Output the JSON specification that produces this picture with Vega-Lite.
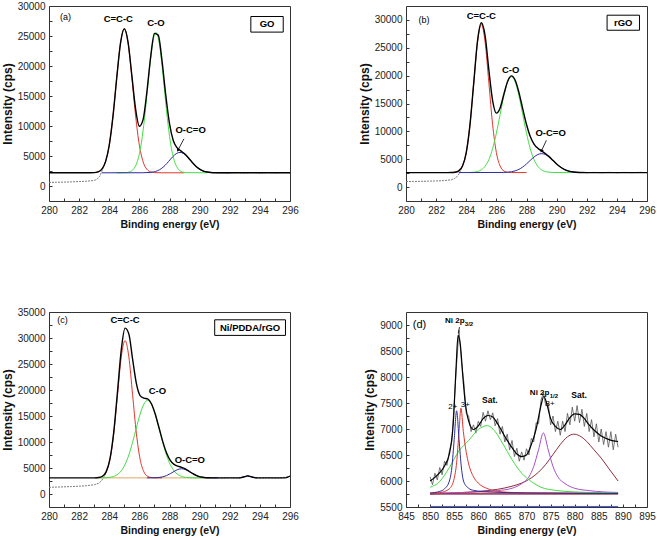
{
"$schema":"https://vega.github.io/schema/vega-lite/v6.json",
"padding":{"left":0,"top":0,"right":0,"bottom":0},
"bounds":"flush",
"columns":2,
"spacing":{"row":111,"column":116},
"config":{
 "font":"Liberation Sans",
 "view":{"stroke":"#333","strokeWidth":1},
 "axis":{"domain":false,"grid":false,"tickSize":-3,"tickColor":"#333","labelPadding":7,"labelFontSize":10,"labelColor":"#222","labelFlush":false,"labelOverlap":false,"titleFontWeight":"bold","titleColor":"#111"},
 "axisX":{"titleFontSize":10.5,"titlePadding":4},
 "axisY":{"titleFontSize":12,"titlePadding":3}
},
"datasets":{
"cv":[
{"p":"a","s":"rawL","x":280,"y":600},{"p":"a","s":"rawL","x":280.5,"y":620},{"p":"a","s":"rawL","x":281,"y":650},{"p":"a","s":"rawL","x":281.5,"y":690},{"p":"a","s":"rawL","x":282,"y":740},{"p":"a","s":"rawL","x":282.5,"y":800},{"p":"a","s":"rawL","x":283,"y":930},{"p":"a","s":"rawL","x":283.2,"y":1150},{"p":"a","s":"rawL","x":283.35,"y":1550},{"p":"a","s":"rawL","x":283.5,"y":2400},{"p":"a","s":"rawL","x":283.75,"y":4014},
{"p":"a","s":"rawR","x":291.5,"y":2250},{"p":"a","s":"rawR","x":292,"y":2180},{"p":"a","s":"rawR","x":292.5,"y":2230},{"p":"a","s":"rawR","x":293,"y":2170},{"p":"a","s":"rawR","x":293.5,"y":2240},{"p":"a","s":"rawR","x":294,"y":2160},{"p":"a","s":"rawR","x":294.5,"y":2250},{"p":"a","s":"rawR","x":295,"y":2180},{"p":"a","s":"rawR","x":295.5,"y":2230},{"p":"a","s":"rawR","x":296,"y":2200},
{"p":"a","s":"env","x":280,"y":2200},{"p":"a","s":"env","x":282.5,"y":2200},{"p":"a","s":"env","x":283,"y":2231},{"p":"a","s":"env","x":283.25,"y":2351},{"p":"a","s":"env","x":283.5,"y":2783},{"p":"a","s":"env","x":283.75,"y":4014},{"p":"a","s":"env","x":284,"y":6796},{"p":"a","s":"env","x":284.25,"y":11680},{"p":"a","s":"env","x":284.5,"y":18090},{"p":"a","s":"env","x":284.75,"y":23850},{"p":"a","s":"env","x":285,"y":26216},{"p":"a","s":"env","x":285.25,"y":23932},{"p":"a","s":"env","x":285.5,"y":18430},{"p":"a","s":"env","x":285.75,"y":12831},{"p":"a","s":"env","x":286,"y":9964},{"p":"a","s":"env","x":286.25,"y":11111},{"p":"a","s":"env","x":286.5,"y":15714},{"p":"a","s":"env","x":286.75,"y":21531},{"p":"a","s":"env","x":287,"y":25426},{"p":"a","s":"env","x":287.25,"y":25150},{"p":"a","s":"env","x":287.5,"y":20944},{"p":"a","s":"env","x":287.75,"y":15195},{"p":"a","s":"env","x":288,"y":10393},{"p":"a","s":"env","x":288.25,"y":7595},{"p":"a","s":"env","x":288.5,"y":6381},{"p":"a","s":"env","x":288.75,"y":5857},{"p":"a","s":"env","x":289,"y":5362},{"p":"a","s":"env","x":289.25,"y":4708},{"p":"a","s":"env","x":289.5,"y":3969},{"p":"a","s":"env","x":289.75,"y":3304},{"p":"a","s":"env","x":290,"y":2806},{"p":"a","s":"env","x":290.25,"y":2492},{"p":"a","s":"env","x":290.5,"y":2325},{"p":"a","s":"env","x":290.75,"y":2247},{"p":"a","s":"env","x":291,"y":2215},{"p":"a","s":"env","x":291.5,"y":2205},{"p":"a","s":"env","x":296,"y":2200},
{"p":"a","s":"r","x":283,"y":2231},{"p":"a","s":"r","x":283.25,"y":2351},{"p":"a","s":"r","x":283.5,"y":2783},{"p":"a","s":"r","x":283.75,"y":4014},{"p":"a","s":"r","x":284,"y":6796},{"p":"a","s":"r","x":284.25,"y":11680},{"p":"a","s":"r","x":284.5,"y":18090},{"p":"a","s":"r","x":284.75,"y":23850},{"p":"a","s":"r","x":285,"y":26200},{"p":"a","s":"r","x":285.25,"y":23850},{"p":"a","s":"r","x":285.5,"y":18090},{"p":"a","s":"r","x":285.75,"y":11680},{"p":"a","s":"r","x":286,"y":6796},{"p":"a","s":"r","x":286.25,"y":4014},{"p":"a","s":"r","x":286.5,"y":2783},{"p":"a","s":"r","x":286.75,"y":2351},{"p":"a","s":"r","x":287,"y":2231},{"p":"a","s":"r","x":287.5,"y":2203},{"p":"a","s":"r","x":289,"y":2200},
{"p":"a","s":"g","x":284.5,"y":2200},{"p":"a","s":"g","x":285.1,"y":2230},{"p":"a","s":"g","x":285.35,"y":2347},{"p":"a","s":"g","x":285.6,"y":2769},{"p":"a","s":"g","x":285.85,"y":3970},{"p":"a","s":"g","x":286.1,"y":6670},{"p":"a","s":"g","x":286.35,"y":11440},{"p":"a","s":"g","x":286.6,"y":17690},{"p":"a","s":"g","x":286.85,"y":23310},{"p":"a","s":"g","x":287.1,"y":25600},{"p":"a","s":"g","x":287.35,"y":23310},{"p":"a","s":"g","x":287.6,"y":17690},{"p":"a","s":"g","x":287.85,"y":11440},{"p":"a","s":"g","x":288.1,"y":6670},{"p":"a","s":"g","x":288.35,"y":3970},{"p":"a","s":"g","x":288.6,"y":2769},{"p":"a","s":"g","x":288.85,"y":2347},{"p":"a","s":"g","x":289.1,"y":2230},{"p":"a","s":"g","x":290.5,"y":2200},
{"p":"a","s":"b","x":283.5,"y":2200},{"p":"a","s":"b","x":286.2,"y":2206},{"p":"a","s":"b","x":286.7,"y":2258},{"p":"a","s":"b","x":286.95,"y":2350},{"p":"a","s":"b","x":287.2,"y":2540},{"p":"a","s":"b","x":287.45,"y":2890},{"p":"a","s":"b","x":287.7,"y":3424},{"p":"a","s":"b","x":287.95,"y":4114},{"p":"a","s":"b","x":288.2,"y":4835},{"p":"a","s":"b","x":288.45,"y":5389},{"p":"a","s":"b","x":288.7,"y":5600},{"p":"a","s":"b","x":288.95,"y":5389},{"p":"a","s":"b","x":289.2,"y":4835},{"p":"a","s":"b","x":289.45,"y":4114},{"p":"a","s":"b","x":289.7,"y":3424},{"p":"a","s":"b","x":289.95,"y":2890},{"p":"a","s":"b","x":290.2,"y":2540},{"p":"a","s":"b","x":290.45,"y":2350},{"p":"a","s":"b","x":290.7,"y":2258},{"p":"a","s":"b","x":291.2,"y":2206},{"p":"a","s":"b","x":292,"y":2200},

{"p":"b","s":"rawL","x":280,"y":1000},{"p":"b","s":"rawL","x":280.5,"y":1010},{"p":"b","s":"rawL","x":281,"y":1030},{"p":"b","s":"rawL","x":281.5,"y":1060},{"p":"b","s":"rawL","x":282,"y":1100},{"p":"b","s":"rawL","x":282.5,"y":1160},{"p":"b","s":"rawL","x":283,"y":1300},{"p":"b","s":"rawL","x":283.2,"y":1500},{"p":"b","s":"rawL","x":283.4,"y":1900},{"p":"b","s":"rawL","x":283.55,"y":2500},{"p":"b","s":"rawL","x":283.75,"y":3768},
{"p":"b","s":"rawR","x":291.75,"y":2650},{"p":"b","s":"rawR","x":292,"y":2580},{"p":"b","s":"rawR","x":292.5,"y":2640},{"p":"b","s":"rawR","x":293,"y":2560},{"p":"b","s":"rawR","x":293.5,"y":2650},{"p":"b","s":"rawR","x":294,"y":2570},{"p":"b","s":"rawR","x":294.5,"y":2640},{"p":"b","s":"rawR","x":295,"y":2580},{"p":"b","s":"rawR","x":295.5,"y":2650},{"p":"b","s":"rawR","x":296,"y":2600},
{"p":"b","s":"env","x":280,"y":2600},{"p":"b","s":"env","x":282.75,"y":2600},{"p":"b","s":"env","x":283,"y":2609},{"p":"b","s":"env","x":283.25,"y":2658},{"p":"b","s":"env","x":283.5,"y":2895},{"p":"b","s":"env","x":283.75,"y":3768},{"p":"b","s":"env","x":284,"y":6200},{"p":"b","s":"env","x":284.25,"y":11258},{"p":"b","s":"env","x":284.5,"y":18799},{"p":"b","s":"env","x":284.75,"y":26266},{"p":"b","s":"env","x":285,"y":29500},{"p":"b","s":"env","x":285.25,"y":27205},{"p":"b","s":"env","x":285.5,"y":21060},{"p":"b","s":"env","x":285.75,"y":15526},{"p":"b","s":"env","x":286,"y":13272},{"p":"b","s":"env","x":286.25,"y":14209},{"p":"b","s":"env","x":286.5,"y":16699},{"p":"b","s":"env","x":286.75,"y":18993},{"p":"b","s":"env","x":287,"y":19958},{"p":"b","s":"env","x":287.25,"y":19181},{"p":"b","s":"env","x":287.5,"y":16964},{"p":"b","s":"env","x":287.75,"y":14035},{"p":"b","s":"env","x":288,"y":11226},{"p":"b","s":"env","x":288.25,"y":9081},{"p":"b","s":"env","x":288.5,"y":7724},{"p":"b","s":"env","x":288.75,"y":6968},{"p":"b","s":"env","x":289,"y":6491},{"p":"b","s":"env","x":289.25,"y":6029},{"p":"b","s":"env","x":289.5,"y":5463},{"p":"b","s":"env","x":289.75,"y":4813},{"p":"b","s":"env","x":290,"y":4157},{"p":"b","s":"env","x":290.25,"y":3603},{"p":"b","s":"env","x":290.5,"y":3186},{"p":"b","s":"env","x":290.75,"y":2911},{"p":"b","s":"env","x":291,"y":2749},{"p":"b","s":"env","x":291.25,"y":2665},{"p":"b","s":"env","x":291.5,"y":2626},{"p":"b","s":"env","x":292,"y":2600},{"p":"b","s":"env","x":296,"y":2600},
{"p":"b","s":"r","x":283,"y":2609},{"p":"b","s":"r","x":283.25,"y":2658},{"p":"b","s":"r","x":283.5,"y":2895},{"p":"b","s":"r","x":283.75,"y":3768},{"p":"b","s":"r","x":284,"y":6200},{"p":"b","s":"r","x":284.25,"y":11237},{"p":"b","s":"r","x":284.5,"y":18733},{"p":"b","s":"r","x":284.75,"y":26075},{"p":"b","s":"r","x":285,"y":29200},{"p":"b","s":"r","x":285.25,"y":26075},{"p":"b","s":"r","x":285.5,"y":18733},{"p":"b","s":"r","x":285.75,"y":11237},{"p":"b","s":"r","x":286,"y":6200},{"p":"b","s":"r","x":286.25,"y":3768},{"p":"b","s":"r","x":286.5,"y":2895},{"p":"b","s":"r","x":286.75,"y":2658},{"p":"b","s":"r","x":287,"y":2609},{"p":"b","s":"r","x":288,"y":2600},
{"p":"b","s":"g","x":284.25,"y":2621},{"p":"b","s":"g","x":284.5,"y":2666},{"p":"b","s":"g","x":284.75,"y":2791},{"p":"b","s":"g","x":285,"y":3091},{"p":"b","s":"g","x":285.25,"y":3730},{"p":"b","s":"g","x":285.5,"y":4927},{"p":"b","s":"g","x":285.75,"y":6889},{"p":"b","s":"g","x":286,"y":9669},{"p":"b","s":"g","x":286.25,"y":13032},{"p":"b","s":"g","x":286.5,"y":16378},{"p":"b","s":"g","x":286.75,"y":18870},{"p":"b","s":"g","x":287,"y":19800},{"p":"b","s":"g","x":287.25,"y":18870},{"p":"b","s":"g","x":287.5,"y":16378},{"p":"b","s":"g","x":287.75,"y":13032},{"p":"b","s":"g","x":288,"y":9669},{"p":"b","s":"g","x":288.25,"y":6889},{"p":"b","s":"g","x":288.5,"y":4927},{"p":"b","s":"g","x":288.75,"y":3730},{"p":"b","s":"g","x":289,"y":3091},{"p":"b","s":"g","x":289.25,"y":2791},{"p":"b","s":"g","x":289.5,"y":2666},{"p":"b","s":"g","x":289.75,"y":2621},{"p":"b","s":"g","x":291,"y":2600},
{"p":"b","s":"b","x":283.5,"y":2600},{"p":"b","s":"b","x":286.5,"y":2626},{"p":"b","s":"b","x":286.75,"y":2665},{"p":"b","s":"b","x":287,"y":2749},{"p":"b","s":"b","x":287.25,"y":2911},{"p":"b","s":"b","x":287.5,"y":3186},{"p":"b","s":"b","x":287.75,"y":3603},{"p":"b","s":"b","x":288,"y":4157},{"p":"b","s":"b","x":288.25,"y":4792},{"p":"b","s":"b","x":288.5,"y":5397},{"p":"b","s":"b","x":288.75,"y":5838},{"p":"b","s":"b","x":289,"y":6000},{"p":"b","s":"b","x":289.25,"y":5838},{"p":"b","s":"b","x":289.5,"y":5397},{"p":"b","s":"b","x":289.75,"y":4792},{"p":"b","s":"b","x":290,"y":4157},{"p":"b","s":"b","x":290.25,"y":3603},{"p":"b","s":"b","x":290.5,"y":3186},{"p":"b","s":"b","x":290.75,"y":2911},{"p":"b","s":"b","x":291,"y":2749},{"p":"b","s":"b","x":291.25,"y":2665},{"p":"b","s":"b","x":291.5,"y":2626},{"p":"b","s":"b","x":292,"y":2600},

{"p":"c","s":"rawL","x":280,"y":1300},{"p":"c","s":"rawL","x":280.5,"y":1330},{"p":"c","s":"rawL","x":281,"y":1380},{"p":"c","s":"rawL","x":281.5,"y":1430},{"p":"c","s":"rawL","x":282,"y":1500},{"p":"c","s":"rawL","x":282.5,"y":1600},{"p":"c","s":"rawL","x":283,"y":1780},{"p":"c","s":"rawL","x":283.3,"y":2050},{"p":"c","s":"rawL","x":283.5,"y":2600},{"p":"c","s":"rawL","x":283.65,"y":3250},{"p":"c","s":"rawL","x":283.8,"y":4299},
{"p":"c","s":"rawR","x":291,"y":3150},{"p":"c","s":"rawR","x":291.5,"y":3050},{"p":"c","s":"rawR","x":292,"y":3140},{"p":"c","s":"rawR","x":292.5,"y":3060},{"p":"c","s":"rawR","x":293,"y":3350},{"p":"c","s":"rawR","x":293.2,"y":3480},{"p":"c","s":"rawR","x":293.5,"y":3250},{"p":"c","s":"rawR","x":294,"y":3060},{"p":"c","s":"rawR","x":294.5,"y":3140},{"p":"c","s":"rawR","x":295,"y":3050},{"p":"c","s":"rawR","x":295.5,"y":3120},{"p":"c","s":"rawR","x":296,"y":3400},
{"p":"c","s":"env","x":280,"y":3100},{"p":"c","s":"env","x":282.8,"y":3100},{"p":"c","s":"env","x":283.05,"y":3109},{"p":"c","s":"env","x":283.3,"y":3162},{"p":"c","s":"env","x":283.55,"y":3406},{"p":"c","s":"env","x":283.8,"y":4299},{"p":"c","s":"env","x":284.05,"y":6785},{"p":"c","s":"env","x":284.3,"y":11958},{"p":"c","s":"env","x":284.55,"y":19766},{"p":"c","s":"env","x":284.8,"y":27760},{"p":"c","s":"env","x":285.05,"y":31900},{"p":"c","s":"env","x":285.3,"y":30794},{"p":"c","s":"env","x":285.55,"y":25934},{"p":"c","s":"env","x":285.8,"y":21278},{"p":"c","s":"env","x":286.05,"y":18933},{"p":"c","s":"env","x":286.3,"y":18450},{"p":"c","s":"env","x":286.55,"y":18295},{"p":"c","s":"env","x":286.8,"y":17355},{"p":"c","s":"env","x":287.05,"y":15394},{"p":"c","s":"env","x":287.3,"y":12783},{"p":"c","s":"env","x":287.55,"y":10122},{"p":"c","s":"env","x":287.8,"y":7932},{"p":"c","s":"env","x":288.05,"y":6468},{"p":"c","s":"env","x":288.3,"y":5699},{"p":"c","s":"env","x":288.55,"y":5359},{"p":"c","s":"env","x":288.8,"y":5136},{"p":"c","s":"env","x":289.05,"y":4818},{"p":"c","s":"env","x":289.3,"y":4377},{"p":"c","s":"env","x":289.55,"y":3914},{"p":"c","s":"env","x":289.8,"y":3540},{"p":"c","s":"env","x":290.05,"y":3300},{"p":"c","s":"env","x":290.3,"y":3177},{"p":"c","s":"env","x":290.55,"y":3125},{"p":"c","s":"env","x":290.8,"y":3107},{"p":"c","s":"env","x":291.2,"y":3100},{"p":"c","s":"env","x":292.7,"y":3100},{"p":"c","s":"env","x":293,"y":3330},{"p":"c","s":"env","x":293.2,"y":3480},{"p":"c","s":"env","x":293.4,"y":3330},{"p":"c","s":"env","x":293.7,"y":3100},{"p":"c","s":"env","x":295.7,"y":3100},{"p":"c","s":"env","x":296,"y":3450},
{"p":"c","s":"base","x":283.3,"y":3100},{"p":"c","s":"base","x":291,"y":3100},
{"p":"c","s":"r","x":283.05,"y":3108},{"p":"c","s":"r","x":283.3,"y":3158},{"p":"c","s":"r","x":283.55,"y":3393},{"p":"c","s":"r","x":283.8,"y":4259},{"p":"c","s":"r","x":284.05,"y":6672},{"p":"c","s":"r","x":284.3,"y":11672},{"p":"c","s":"r","x":284.55,"y":19112},{"p":"c","s":"r","x":284.8,"y":26398},{"p":"c","s":"r","x":285.05,"y":29500},{"p":"c","s":"r","x":285.3,"y":26398},{"p":"c","s":"r","x":285.55,"y":19112},{"p":"c","s":"r","x":285.8,"y":11672},{"p":"c","s":"r","x":286.05,"y":6672},{"p":"c","s":"r","x":286.3,"y":4259},{"p":"c","s":"r","x":286.55,"y":3393},{"p":"c","s":"r","x":286.8,"y":3158},{"p":"c","s":"r","x":287.05,"y":3108},{"p":"c","s":"r","x":287.5,"y":3100},
{"p":"c","s":"g","x":283.3,"y":3104},{"p":"c","s":"g","x":283.55,"y":3113},{"p":"c","s":"g","x":283.8,"y":3140},{"p":"c","s":"g","x":284.05,"y":3213},{"p":"c","s":"g","x":284.3,"y":3386},{"p":"c","s":"g","x":284.55,"y":3754},{"p":"c","s":"g","x":284.8,"y":4462},{"p":"c","s":"g","x":285.05,"y":5667},{"p":"c","s":"g","x":285.3,"y":7496},{"p":"c","s":"g","x":285.55,"y":9922},{"p":"c","s":"g","x":285.8,"y":12706},{"p":"c","s":"g","x":286.05,"y":15361},{"p":"c","s":"g","x":286.3,"y":17290},{"p":"c","s":"g","x":286.55,"y":18000},{"p":"c","s":"g","x":286.8,"y":17290},{"p":"c","s":"g","x":287.05,"y":15361},{"p":"c","s":"g","x":287.3,"y":12706},{"p":"c","s":"g","x":287.55,"y":9922},{"p":"c","s":"g","x":287.8,"y":7496},{"p":"c","s":"g","x":288.05,"y":5667},{"p":"c","s":"g","x":288.3,"y":4462},{"p":"c","s":"g","x":288.55,"y":3754},{"p":"c","s":"g","x":288.8,"y":3386},{"p":"c","s":"g","x":289.05,"y":3213},{"p":"c","s":"g","x":289.3,"y":3140},{"p":"c","s":"g","x":289.55,"y":3113},{"p":"c","s":"g","x":289.8,"y":3104},{"p":"c","s":"g","x":290.3,"y":3100},
{"p":"c","s":"b","x":286.5,"y":3100},{"p":"c","s":"b","x":287.05,"y":3125},{"p":"c","s":"b","x":287.3,"y":3177},{"p":"c","s":"b","x":287.55,"y":3300},{"p":"c","s":"b","x":287.8,"y":3536},{"p":"c","s":"b","x":288.05,"y":3901},{"p":"c","s":"b","x":288.3,"y":4337},{"p":"c","s":"b","x":288.55,"y":4705},{"p":"c","s":"b","x":288.8,"y":4850},{"p":"c","s":"b","x":289.05,"y":4705},{"p":"c","s":"b","x":289.3,"y":4337},{"p":"c","s":"b","x":289.55,"y":3901},{"p":"c","s":"b","x":289.8,"y":3536},{"p":"c","s":"b","x":290.05,"y":3300},{"p":"c","s":"b","x":290.3,"y":3177},{"p":"c","s":"b","x":290.55,"y":3125},{"p":"c","s":"b","x":290.8,"y":3107},{"p":"c","s":"b","x":291.2,"y":3100},
{"p":"c","s":"b2","x":292.6,"y":3100},{"p":"c","s":"b2","x":293,"y":3330},{"p":"c","s":"b2","x":293.2,"y":3480},{"p":"c","s":"b2","x":293.4,"y":3330},{"p":"c","s":"b2","x":293.8,"y":3100},

{"p":"d","s":"raw","x":850,"y":6080},{"p":"d","s":"raw","x":850.5,"y":5930},{"p":"d","s":"raw","x":851,"y":6150},{"p":"d","s":"raw","x":851.5,"y":6020},{"p":"d","s":"raw","x":852,"y":6260},{"p":"d","s":"raw","x":852.5,"y":6120},{"p":"d","s":"raw","x":853,"y":6380},{"p":"d","s":"raw","x":853.5,"y":6300},{"p":"d","s":"raw","x":854,"y":6580},{"p":"d","s":"raw","x":854.5,"y":6760},{"p":"d","s":"raw","x":855,"y":7500},{"p":"d","s":"raw","x":855.5,"y":8250},{"p":"d","s":"raw","x":856,"y":8900},{"p":"d","s":"raw","x":856.5,"y":8300},{"p":"d","s":"raw","x":857,"y":7900},{"p":"d","s":"raw","x":857.5,"y":7300},{"p":"d","s":"raw","x":858,"y":7250},{"p":"d","s":"raw","x":858.5,"y":6950},{"p":"d","s":"raw","x":859,"y":7080},{"p":"d","s":"raw","x":859.5,"y":6920},{"p":"d","s":"raw","x":860,"y":7150},{"p":"d","s":"raw","x":860.5,"y":7050},{"p":"d","s":"raw","x":861,"y":7320},{"p":"d","s":"raw","x":861.5,"y":7150},{"p":"d","s":"raw","x":862,"y":7350},{"p":"d","s":"raw","x":862.5,"y":7180},{"p":"d","s":"raw","x":863,"y":7310},{"p":"d","s":"raw","x":863.5,"y":7060},{"p":"d","s":"raw","x":864,"y":7200},{"p":"d","s":"raw","x":864.5,"y":6900},{"p":"d","s":"raw","x":865,"y":7050},{"p":"d","s":"raw","x":865.5,"y":6750},{"p":"d","s":"raw","x":866,"y":6900},{"p":"d","s":"raw","x":866.5,"y":6600},{"p":"d","s":"raw","x":867,"y":6780},{"p":"d","s":"raw","x":867.5,"y":6470},{"p":"d","s":"raw","x":868,"y":6630},{"p":"d","s":"raw","x":868.5,"y":6380},{"p":"d","s":"raw","x":869,"y":6560},{"p":"d","s":"raw","x":869.5,"y":6400},{"p":"d","s":"raw","x":870,"y":6620},{"p":"d","s":"raw","x":870.5,"y":6500},{"p":"d","s":"raw","x":871,"y":6820},{"p":"d","s":"raw","x":871.5,"y":6750},{"p":"d","s":"raw","x":872,"y":7120},{"p":"d","s":"raw","x":872.5,"y":7100},{"p":"d","s":"raw","x":873,"y":7550},{"p":"d","s":"raw","x":873.5,"y":7700},{"p":"d","s":"raw","x":874,"y":7450},{"p":"d","s":"raw","x":874.5,"y":7500},{"p":"d","s":"raw","x":875,"y":7080},{"p":"d","s":"raw","x":875.5,"y":7250},{"p":"d","s":"raw","x":876,"y":6950},{"p":"d","s":"raw","x":876.5,"y":7150},{"p":"d","s":"raw","x":877,"y":6880},{"p":"d","s":"raw","x":877.5,"y":7150},{"p":"d","s":"raw","x":878,"y":6950},{"p":"d","s":"raw","x":878.5,"y":7300},{"p":"d","s":"raw","x":879,"y":7080},{"p":"d","s":"raw","x":879.5,"y":7420},{"p":"d","s":"raw","x":880,"y":7150},{"p":"d","s":"raw","x":880.5,"y":7450},{"p":"d","s":"raw","x":881,"y":7120},{"p":"d","s":"raw","x":881.5,"y":7380},{"p":"d","s":"raw","x":882,"y":7050},{"p":"d","s":"raw","x":882.5,"y":7300},{"p":"d","s":"raw","x":883,"y":6950},{"p":"d","s":"raw","x":883.5,"y":7180},{"p":"d","s":"raw","x":884,"y":6850},{"p":"d","s":"raw","x":884.5,"y":7100},{"p":"d","s":"raw","x":885,"y":6750},{"p":"d","s":"raw","x":885.5,"y":7000},{"p":"d","s":"raw","x":886,"y":6700},{"p":"d","s":"raw","x":886.5,"y":6950},{"p":"d","s":"raw","x":887,"y":6650},{"p":"d","s":"raw","x":887.5,"y":6950},{"p":"d","s":"raw","x":888,"y":6600},{"p":"d","s":"raw","x":888.5,"y":6900},{"p":"d","s":"raw","x":889,"y":6650},
{"p":"d","s":"env","x":850,"y":6000},{"p":"d","s":"env","x":851,"y":6070},{"p":"d","s":"env","x":852,"y":6160},{"p":"d","s":"env","x":853,"y":6290},{"p":"d","s":"env","x":854,"y":6520},{"p":"d","s":"env","x":854.8,"y":7100},{"p":"d","s":"env","x":855.4,"y":8200},{"p":"d","s":"env","x":855.8,"y":8800},{"p":"d","s":"env","x":856.3,"y":8600},{"p":"d","s":"env","x":856.8,"y":8000},{"p":"d","s":"env","x":857.3,"y":7500},{"p":"d","s":"env","x":858,"y":7150},{"p":"d","s":"env","x":859,"y":6990},{"p":"d","s":"env","x":860,"y":7060},{"p":"d","s":"env","x":861,"y":7200},{"p":"d","s":"env","x":862,"y":7260},{"p":"d","s":"env","x":863,"y":7230},{"p":"d","s":"env","x":864,"y":7100},{"p":"d","s":"env","x":865,"y":6940},{"p":"d","s":"env","x":866,"y":6780},{"p":"d","s":"env","x":867,"y":6640},{"p":"d","s":"env","x":868,"y":6520},{"p":"d","s":"env","x":869,"y":6470},{"p":"d","s":"env","x":870,"y":6500},{"p":"d","s":"env","x":871,"y":6700},{"p":"d","s":"env","x":872,"y":7000},{"p":"d","s":"env","x":873,"y":7450},{"p":"d","s":"env","x":873.6,"y":7630},{"p":"d","s":"env","x":874.3,"y":7450},{"p":"d","s":"env","x":875,"y":7200},{"p":"d","s":"env","x":876,"y":7050},{"p":"d","s":"env","x":877,"y":6990},{"p":"d","s":"env","x":878,"y":7080},{"p":"d","s":"env","x":879,"y":7220},{"p":"d","s":"env","x":880,"y":7290},{"p":"d","s":"env","x":881,"y":7280},{"p":"d","s":"env","x":882,"y":7200},{"p":"d","s":"env","x":883,"y":7080},{"p":"d","s":"env","x":884,"y":6980},{"p":"d","s":"env","x":885,"y":6900},{"p":"d","s":"env","x":886,"y":6840},{"p":"d","s":"env","x":887,"y":6800},{"p":"d","s":"env","x":888,"y":6770},{"p":"d","s":"env","x":889,"y":6760},
{"p":"d","s":"bl1","x":850,"y":5748},{"p":"d","s":"bl1","x":889,"y":5748},
{"p":"d","s":"bl2","x":850,"y":5760},{"p":"d","s":"bl2","x":889,"y":5770},
{"p":"d","s":"res","x":850,"y":5510},{"p":"d","s":"res","x":889,"y":5510},
{"p":"d","s":"br","x":850,"y":5750},{"p":"d","s":"br","x":855,"y":5770},{"p":"d","s":"br","x":860,"y":5800},{"p":"d","s":"br","x":864,"y":5840},{"p":"d","s":"br","x":867,"y":5900},{"p":"d","s":"br","x":869,"y":5960},{"p":"d","s":"br","x":871,"y":6060},{"p":"d","s":"br","x":872.5,"y":6170},{"p":"d","s":"br","x":874,"y":6320},{"p":"d","s":"br","x":875.5,"y":6510},{"p":"d","s":"br","x":877,"y":6700},{"p":"d","s":"br","x":878.5,"y":6850},{"p":"d","s":"br","x":879.8,"y":6900},{"p":"d","s":"br","x":881,"y":6870},{"p":"d","s":"br","x":882.5,"y":6760},{"p":"d","s":"br","x":884,"y":6600},{"p":"d","s":"br","x":885.5,"y":6440},{"p":"d","s":"br","x":887,"y":6250},{"p":"d","s":"br","x":889,"y":6000},
{"p":"d","s":"pu","x":850,"y":5765},{"p":"d","s":"pu","x":855,"y":5775},{"p":"d","s":"pu","x":860,"y":5790},{"p":"d","s":"pu","x":864,"y":5815},{"p":"d","s":"pu","x":867,"y":5860},{"p":"d","s":"pu","x":869,"y":5950},{"p":"d","s":"pu","x":870.5,"y":6080},{"p":"d","s":"pu","x":871.5,"y":6280},{"p":"d","s":"pu","x":872.5,"y":6600},{"p":"d","s":"pu","x":873.5,"y":6925},{"p":"d","s":"pu","x":874.5,"y":6600},{"p":"d","s":"pu","x":875.5,"y":6280},{"p":"d","s":"pu","x":876.5,"y":6080},{"p":"d","s":"pu","x":878,"y":5950},{"p":"d","s":"pu","x":880,"y":5860},{"p":"d","s":"pu","x":883,"y":5815},{"p":"d","s":"pu","x":886,"y":5790},{"p":"d","s":"pu","x":889,"y":5780},
{"p":"d","s":"g","x":850,"y":5880},{"p":"d","s":"g","x":852,"y":5990},{"p":"d","s":"g","x":854,"y":6260},{"p":"d","s":"g","x":856,"y":6580},{"p":"d","s":"g","x":858,"y":6780},{"p":"d","s":"g","x":860,"y":6990},{"p":"d","s":"g","x":861.85,"y":7065},{"p":"d","s":"g","x":863.5,"y":6950},{"p":"d","s":"g","x":865,"y":6730},{"p":"d","s":"g","x":867,"y":6410},{"p":"d","s":"g","x":869,"y":6150},{"p":"d","s":"g","x":871,"y":5990},{"p":"d","s":"g","x":873,"y":5880},{"p":"d","s":"g","x":876,"y":5820},{"p":"d","s":"g","x":880,"y":5790},{"p":"d","s":"g","x":885,"y":5775},{"p":"d","s":"g","x":889,"y":5770},
{"p":"d","s":"r","x":850,"y":5760},{"p":"d","s":"r","x":852,"y":5775},{"p":"d","s":"r","x":854,"y":5850},{"p":"d","s":"r","x":855,"y":6050},{"p":"d","s":"r","x":855.5,"y":6350},{"p":"d","s":"r","x":856,"y":6950},{"p":"d","s":"r","x":856.4,"y":7400},{"p":"d","s":"r","x":856.9,"y":6950},{"p":"d","s":"r","x":857.5,"y":6550},{"p":"d","s":"r","x":858,"y":6330},{"p":"d","s":"r","x":859,"y":6080},{"p":"d","s":"r","x":860,"y":5960},{"p":"d","s":"r","x":862,"y":5850},{"p":"d","s":"r","x":865,"y":5790},{"p":"d","s":"r","x":870,"y":5770},{"p":"d","s":"r","x":889,"y":5760},
{"p":"d","s":"b","x":850,"y":5770},{"p":"d","s":"b","x":852,"y":5800},{"p":"d","s":"b","x":853,"y":5850},{"p":"d","s":"b","x":854,"y":6000},{"p":"d","s":"b","x":854.5,"y":6250},{"p":"d","s":"b","x":855,"y":6800},{"p":"d","s":"b","x":855.5,"y":7350},{"p":"d","s":"b","x":856,"y":6800},{"p":"d","s":"b","x":856.5,"y":6250},{"p":"d","s":"b","x":857,"y":5980},{"p":"d","s":"b","x":858,"y":5860},{"p":"d","s":"b","x":859,"y":5820},{"p":"d","s":"b","x":862,"y":5790},{"p":"d","s":"b","x":870,"y":5770},{"p":"d","s":"b","x":889,"y":5760}
],
"lb":[
{"p":"a","k":"n","t":"(a)","x":281.1,"y":28200},
{"p":"a","k":"b","t":"C=C-C","x":284.6,"y":27800},
{"p":"a","k":"b","t":"C-O","x":287.1,"y":27250},
{"p":"a","k":"b","t":"O-C=O","x":289.4,"y":9300},
{"p":"a","k":"b","t":"GO","x":294.48,"y":26950},
{"p":"b","k":"n","t":"(b)","x":281.2,"y":29950},
{"p":"b","k":"b","t":"C=C-C","x":285.0,"y":30700},
{"p":"b","k":"b","t":"C-O","x":286.95,"y":21100},
{"p":"b","k":"b","t":"O-C=O","x":289.6,"y":9750},
{"p":"b","k":"b","t":"rGO","x":294.42,"y":29500},
{"p":"c","k":"n","t":"(c)","x":280.9,"y":33400},
{"p":"c","k":"b","t":"C=C-C","x":285.05,"y":33400},
{"p":"c","k":"b","t":"C-O","x":287.2,"y":19750},
{"p":"c","k":"b","t":"O-C=O","x":289.35,"y":6450},
{"p":"c","k":"b","t":"Ni/PDDA/rGO","x":293.35,"y":32000},
{"p":"d","k":"pd","t":"(d)","x":847.8,"y":9002},
{"p":"d","k":"bdl","t":"Ni 2p","x":853.1,"y":9079},
{"p":"d","k":"sdl","t":"3/2","x":857.2,"y":9022},
{"p":"d","k":"bdl","t":"Ni 2p","x":870.7,"y":7689},
{"p":"d","k":"sdl","t":"1/2","x":874.8,"y":7632},
{"p":"d","k":"nd","t":"2+","x":854.7,"y":7417},
{"p":"d","k":"nd","t":"3+","x":857.3,"y":7455},
{"p":"d","k":"nd","t":"3+","x":874.9,"y":7485},
{"p":"d","k":"bd","t":"Sat.","x":862.4,"y":7560},
{"p":"d","k":"bd","t":"Sat.","x":880.9,"y":7657}
],
"bx":[
{"p":"a","x":293.4,"x2":295.55,"y":25650,"y2":28250},
{"p":"b","x":293.35,"x2":295.5,"y":28150,"y2":30850},
{"p":"c","x":291.0,"x2":295.7,"y":30500,"y2":33500}
],
"ar":[
{"p":"a","x":288.96,"y":7880,"x2":288.56,"y2":5950},
{"p":"b","x":289.32,"y":8390,"x2":288.99,"y2":6470},
{"p":"d","x":856.1,"y":8960,"x2":855.85,"y2":8840}
],
"hd":[
{"p":"a","x":288.56,"y":5950},
{"p":"b","x":288.99,"y":6470}
]
},
"concat":[
{"width":241,"height":195,
 "encoding":{
  "x":{"field":"x","type":"quantitative","scale":{"domain":[280,296],"nice":false,"zero":false},"axis":{"title":"Binding energy (eV)","values":[280,281,282,283,284,285,286,287,288,289,290,291,292,293,294,295,296],"labelExpr":"datum.value % 2 == 0 ? datum.label : ''"}},
  "y":{"field":"y","type":"quantitative","scale":{"domain":[-2500,30000],"nice":false,"zero":false},"axis":{"title":"Intensity (cps)","format":"d","values":[0,2500,5000,7500,10000,12500,15000,17500,20000,22500,25000,27500,30000],"labelExpr":"datum.value % 5000 == 0 ? datum.label : ''"}}
 },
 "layer":[
  {"data":{"name":"cv"},"transform":[{"filter":"datum.p=='a' && (datum.s=='rawL' || datum.s=='rawR')"}],"mark":{"type":"line","color":"#7a7a7a","strokeDash":[2,1],"strokeWidth":1,"clip":true},"encoding":{"detail":{"field":"s"}}},
  {"data":{"name":"cv"},"transform":[{"filter":"datum.p=='a' && indexof(['r','g','b','b2','base','pu','br','bl1','bl2','res'], datum.s) >= 0"}],"mark":{"type":"line","interpolate":"monotone","strokeWidth":1,"clip":true},"encoding":{"color":{"field":"s","type":"nominal","scale":{"domain":["r","g","b","b2","base","pu","br","bl1","bl2","res"],"range":["#e0362c","#44dd44","#2b2b9c","#2b2b9c","#dba760","#a54fc8","#8e2c3c","#7c1f3a","#b03040","#4a5ad8"]},"legend":null}}},
  {"data":{"name":"cv"},"transform":[{"filter":"datum.p=='a' && datum.s=='env'"}],"mark":{"type":"line","interpolate":"monotone","color":"#000","strokeWidth":1.4,"clip":true}},
  {"data":{"name":"bx"},"transform":[{"filter":"datum.p=='a'"}],"mark":{"type":"rect","fill":"#fff","stroke":"#000","strokeWidth":1},"encoding":{"x2":{"field":"x2"},"y2":{"field":"y2"}}},
  {"data":{"name":"lb"},"transform":[{"filter":"datum.p=='a' && datum.k=='b'"}],"mark":{"type":"text","fontWeight":"bold","fontSize":9.5,"color":"#000"},"encoding":{"text":{"field":"t"}}},
  {"data":{"name":"lb"},"transform":[{"filter":"datum.p=='a' && datum.k=='n'"}],"mark":{"type":"text","fontSize":9,"color":"#000"},"encoding":{"text":{"field":"t"}}},
  {"data":{"name":"ar"},"transform":[{"filter":"datum.p=='a'"}],"mark":{"type":"rule","color":"#000","strokeWidth":0.8},"encoding":{"x2":{"field":"x2"},"y2":{"field":"y2"}}},
  {"data":{"name":"hd"},"transform":[{"filter":"datum.p=='a'"}],"mark":{"type":"point","shape":"triangle-up","filled":true,"color":"#000","size":14,"angle":206,"opacity":1}}
 ]},
{"width":241,"height":195,
 "encoding":{
  "x":{"field":"x","type":"quantitative","scale":{"domain":[280,296],"nice":false,"zero":false},"axis":{"title":"Binding energy (eV)","values":[280,281,282,283,284,285,286,287,288,289,290,291,292,293,294,295,296],"labelExpr":"datum.value % 2 == 0 ? datum.label : ''"}},
  "y":{"field":"y","type":"quantitative","scale":{"domain":[-2500,32500],"nice":false,"zero":false},"axis":{"title":"Intensity (cps)","format":"d","values":[0,2500,5000,7500,10000,12500,15000,17500,20000,22500,25000,27500,30000],"labelExpr":"datum.value % 5000 == 0 ? datum.label : ''"}}
 },
 "layer":[
  {"data":{"name":"cv"},"transform":[{"filter":"datum.p=='b' && (datum.s=='rawL' || datum.s=='rawR')"}],"mark":{"type":"line","color":"#7a7a7a","strokeDash":[2,1],"strokeWidth":1,"clip":true},"encoding":{"detail":{"field":"s"}}},
  {"data":{"name":"cv"},"transform":[{"filter":"datum.p=='b' && indexof(['r','g','b','b2','base','pu','br','bl1','bl2','res'], datum.s) >= 0"}],"mark":{"type":"line","interpolate":"monotone","strokeWidth":1,"clip":true},"encoding":{"color":{"field":"s","type":"nominal","scale":{"domain":["r","g","b","b2","base","pu","br","bl1","bl2","res"],"range":["#e0362c","#44dd44","#2b2b9c","#2b2b9c","#dba760","#a54fc8","#8e2c3c","#7c1f3a","#b03040","#4a5ad8"]},"legend":null}}},
  {"data":{"name":"cv"},"transform":[{"filter":"datum.p=='b' && datum.s=='env'"}],"mark":{"type":"line","interpolate":"monotone","color":"#000","strokeWidth":1.4,"clip":true}},
  {"data":{"name":"bx"},"transform":[{"filter":"datum.p=='b'"}],"mark":{"type":"rect","fill":"#fff","stroke":"#000","strokeWidth":1},"encoding":{"x2":{"field":"x2"},"y2":{"field":"y2"}}},
  {"data":{"name":"lb"},"transform":[{"filter":"datum.p=='b' && datum.k=='b'"}],"mark":{"type":"text","fontWeight":"bold","fontSize":9.5,"color":"#000"},"encoding":{"text":{"field":"t"}}},
  {"data":{"name":"lb"},"transform":[{"filter":"datum.p=='b' && datum.k=='n'"}],"mark":{"type":"text","fontSize":9,"color":"#000"},"encoding":{"text":{"field":"t"}}},
  {"data":{"name":"ar"},"transform":[{"filter":"datum.p=='b'"}],"mark":{"type":"rule","color":"#000","strokeWidth":0.8},"encoding":{"x2":{"field":"x2"},"y2":{"field":"y2"}}},
  {"data":{"name":"hd"},"transform":[{"filter":"datum.p=='b'"}],"mark":{"type":"point","shape":"triangle-up","filled":true,"color":"#000","size":14,"angle":206,"opacity":1}}
 ]},
{"width":241,"height":195,
 "encoding":{
  "x":{"field":"x","type":"quantitative","scale":{"domain":[280,296],"nice":false,"zero":false},"axis":{"title":"Binding energy (eV)","values":[280,281,282,283,284,285,286,287,288,289,290,291,292,293,294,295,296],"labelExpr":"datum.value % 2 == 0 ? datum.label : ''"}},
  "y":{"field":"y","type":"quantitative","scale":{"domain":[-2500,35000],"nice":false,"zero":false},"axis":{"title":"Intensity (cps)","format":"d","values":[0,2500,5000,7500,10000,12500,15000,17500,20000,22500,25000,27500,30000,32500,35000],"labelExpr":"datum.value % 5000 == 0 ? datum.label : ''"}}
 },
 "layer":[
  {"data":{"name":"cv"},"transform":[{"filter":"datum.p=='c' && (datum.s=='rawL' || datum.s=='rawR')"}],"mark":{"type":"line","color":"#7a7a7a","strokeDash":[2,1],"strokeWidth":1,"clip":true},"encoding":{"detail":{"field":"s"}}},
  {"data":{"name":"cv"},"transform":[{"filter":"datum.p=='c' && indexof(['r','g','b','b2','base','pu','br','bl1','bl2','res'], datum.s) >= 0"}],"mark":{"type":"line","interpolate":"monotone","strokeWidth":1,"clip":true},"encoding":{"color":{"field":"s","type":"nominal","scale":{"domain":["r","g","b","b2","base","pu","br","bl1","bl2","res"],"range":["#e0362c","#44dd44","#2b2b9c","#2b2b9c","#dba760","#a54fc8","#8e2c3c","#7c1f3a","#b03040","#4a5ad8"]},"legend":null}}},
  {"data":{"name":"cv"},"transform":[{"filter":"datum.p=='c' && datum.s=='env'"}],"mark":{"type":"line","interpolate":"monotone","color":"#000","strokeWidth":1.4,"clip":true}},
  {"data":{"name":"bx"},"transform":[{"filter":"datum.p=='c'"}],"mark":{"type":"rect","fill":"#fff","stroke":"#000","strokeWidth":1},"encoding":{"x2":{"field":"x2"},"y2":{"field":"y2"}}},
  {"data":{"name":"lb"},"transform":[{"filter":"datum.p=='c' && datum.k=='b'"}],"mark":{"type":"text","fontWeight":"bold","fontSize":9.5,"color":"#000"},"encoding":{"text":{"field":"t"}}},
  {"data":{"name":"lb"},"transform":[{"filter":"datum.p=='c' && datum.k=='n'"}],"mark":{"type":"text","fontSize":9,"color":"#000"},"encoding":{"text":{"field":"t"}}}
 ]},
{"width":241,"height":195,
 "encoding":{
  "x":{"field":"x","type":"quantitative","scale":{"domain":[845,895],"nice":false,"zero":false},"axis":{"title":"Binding energy (eV)","values":[845,847.5,850,852.5,855,857.5,860,862.5,865,867.5,870,872.5,875,877.5,880,882.5,885,887.5,890,892.5,895],"labelExpr":"datum.value % 5 == 0 ? datum.label : ''"}},
  "y":{"field":"y","type":"quantitative","scale":{"domain":[5500,9250],"nice":false,"zero":false},"axis":{"title":"Intensity (cps)","format":"d","values":[5500,5750,6000,6250,6500,6750,7000,7250,7500,7750,8000,8250,8500,8750,9000],"labelExpr":"datum.value % 500 == 0 ? datum.label : ''"}}
 },
 "layer":[
  {"data":{"name":"cv"},"transform":[{"filter":"datum.p=='d' && datum.s=='raw'"}],"mark":{"type":"line","color":"#555","strokeWidth":0.8,"clip":true}},
  {"data":{"name":"cv"},"transform":[{"filter":"datum.p=='d' && indexof(['r','g','b','b2','base','pu','br','bl1','bl2','res'], datum.s) >= 0"}],"mark":{"type":"line","interpolate":"monotone","strokeWidth":1,"clip":true},"encoding":{"color":{"field":"s","type":"nominal","scale":{"domain":["r","g","b","b2","base","pu","br","bl1","bl2","res"],"range":["#e0362c","#44dd44","#2b2b9c","#2b2b9c","#dba760","#a54fc8","#8e2c3c","#7c1f3a","#b03040","#4a5ad8"]},"legend":null}}},
  {"data":{"name":"cv"},"transform":[{"filter":"datum.p=='d' && datum.s=='env'"}],"mark":{"type":"line","interpolate":"monotone","color":"#000","strokeWidth":1.2,"clip":true}},
  {"data":{"name":"lb"},"transform":[{"filter":"datum.p=='d' && datum.k=='pd'"}],"mark":{"type":"text","fontSize":11,"color":"#000"},"encoding":{"text":{"field":"t"}}},
  {"data":{"name":"lb"},"transform":[{"filter":"datum.p=='d' && datum.k=='bd'"}],"mark":{"type":"text","fontWeight":"bold","fontSize":8.5,"color":"#000"},"encoding":{"text":{"field":"t"}}},
  {"data":{"name":"lb"},"transform":[{"filter":"datum.p=='d' && datum.k=='nd'"}],"mark":{"type":"text","fontSize":8,"color":"#000"},"encoding":{"text":{"field":"t"}}},
  {"data":{"name":"lb"},"transform":[{"filter":"datum.p=='d' && datum.k=='bdl'"}],"mark":{"type":"text","fontWeight":"bold","fontSize":8,"align":"left","color":"#000"},"encoding":{"text":{"field":"t"}}},
  {"data":{"name":"lb"},"transform":[{"filter":"datum.p=='d' && datum.k=='sdl'"}],"mark":{"type":"text","fontWeight":"bold","fontSize":6,"align":"left","color":"#000"},"encoding":{"text":{"field":"t"}}},
  {"data":{"name":"ar"},"transform":[{"filter":"datum.p=='d'"}],"mark":{"type":"rule","color":"#000","strokeWidth":0.8},"encoding":{"x2":{"field":"x2"},"y2":{"field":"y2"}}}
 ]}
]
}
